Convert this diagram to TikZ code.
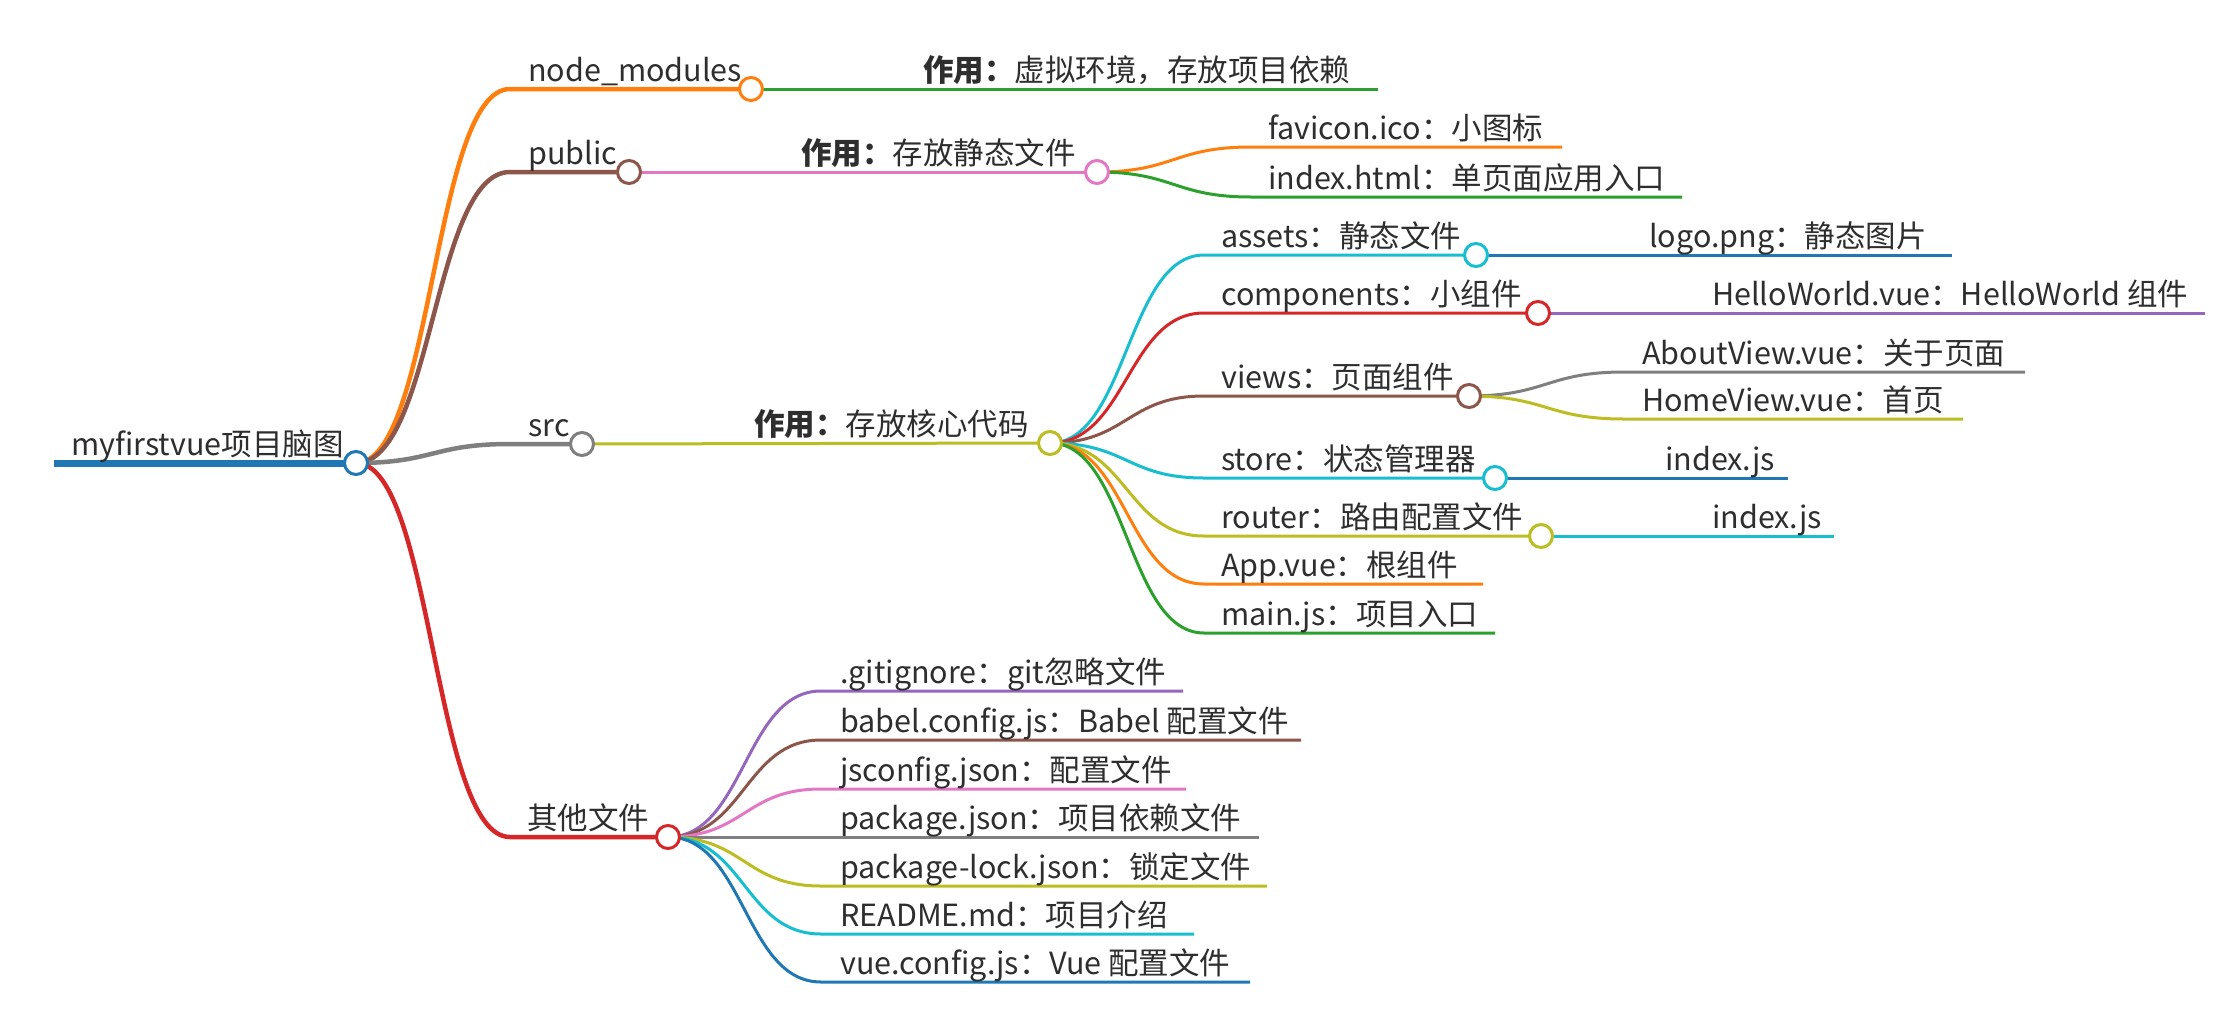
\documentclass[tikz,border=0pt]{standalone}
\usepackage{fontspec}
\setmainfont{Noto Sans CJK SC}
\usetikzlibrary{calc}
\definecolor{cblue}{HTML}{1F77B4}
\definecolor{corange}{HTML}{FF7F0E}
\definecolor{cgreen}{HTML}{2CA02C}
\definecolor{cred}{HTML}{D62728}
\definecolor{cpurple}{HTML}{9467BD}
\definecolor{cbrown}{HTML}{8C564B}
\definecolor{cpink}{HTML}{E377C2}
\definecolor{cgray}{HTML}{7F7F7F}
\definecolor{colive}{HTML}{BCBD22}
\definecolor{ccyan}{HTML}{17BECF}
\definecolor{txt}{HTML}{2E2E2E}
\pgfdeclarelayer{bg}
\pgfdeclarelayer{lines}
\pgfsetlayers{bg,lines,main}
\begin{document}
\begin{tikzpicture}[x=1pt,y=-1pt,
  bez/.style={to path={let \p1=(\tikztostart),\p2=(\tikztotarget) in
     .. controls ($(\p1)!0.5!(\x2,\y1)$) and ($(\p2)!0.5!(\x1,\y2)$) .. (\p2)}},
  knob/.style={circle,draw=#1,fill=white,line width=3pt,minimum size=23pt,inner sep=0pt},
  lbl/.style={anchor=base west,inner sep=0pt,font=\fontsize{30.5}{36}\selectfont,text=txt},
  brone/.style={draw=#1,line width=4.5pt},
  brtwo/.style={draw=#1,line width=3pt},
]
\useasboundingbox (0,0) rectangle (2218,1012);
\begin{pgfonlayer}{bg}
\fill[white] (0,0) rectangle (2218,1012);
\end{pgfonlayer}

% ---------- circles ----------
\node[knob=cblue]   (root)   at (356,463) {};
\node[knob=corange] (nm)     at (751,89)  {};
\node[knob=cbrown]  (pub)    at (629,172) {};
\node[knob=cpink]   (pubc)   at (1097,172) {};
\node[knob=cgray]   (src)    at (582,444) {};
\node[knob=colive]  (srcc)   at (1050,443) {};
\node[knob=ccyan]   (assets) at (1476,255) {};
\node[knob=cred]    (comp)   at (1538,313) {};
\node[knob=cbrown]  (views)  at (1469,396) {};
\node[knob=ccyan]   (store)  at (1495,478) {};
\node[knob=colive]  (router) at (1541,536) {};
\node[knob=cred]    (other)  at (668,837) {};

% ---------- coordinates ----------
\coordinate (root-w) at (54,463);
\coordinate (nm-s) at (510,89);
\coordinate (pub-s) at (510,172);
\coordinate (src-s) at (510,444);
\coordinate (other-s) at (510,837);
\coordinate (nmc-e) at (1378,89);
\coordinate (fav-s) at (1251,147);  \coordinate (fav-e) at (1562,147);
\coordinate (html-s) at (1251,197); \coordinate (html-e) at (1682,197);
\coordinate (assets-s) at (1204,255);
\coordinate (logo-e) at (1952,255);
\coordinate (comp-s) at (1204,313);
\coordinate (hello-e) at (2205,313);
\coordinate (views-s) at (1204,396);
\coordinate (about-s) at (1624,372); \coordinate (about-e) at (2025,372);
\coordinate (home-s) at (1624,419);  \coordinate (home-e) at (1963,419);
\coordinate (store-s) at (1204,478);
\coordinate (sidx-e) at (1788,478);
\coordinate (router-s) at (1204,536);
\coordinate (ridx-e) at (1834,536);
\coordinate (app-s) at (1204,584);  \coordinate (app-e) at (1483,584);
\coordinate (main-s) at (1204,633); \coordinate (main-e) at (1495,633);
\coordinate (git-s) at (821,691);   \coordinate (git-e) at (1183,691);
\coordinate (babel-s) at (821,740); \coordinate (babel-e) at (1301,740);
\coordinate (jsc-s) at (821,789);   \coordinate (jsc-e) at (1186,789);
\coordinate (pkg-s) at (821,837);   \coordinate (pkg-e) at (1259,837);
\coordinate (lock-s) at (821,886);  \coordinate (lock-e) at (1267,886);
\coordinate (readme-s) at (821,934); \coordinate (readme-e) at (1194,934);
\coordinate (vuec-s) at (821,982);  \coordinate (vuec-e) at (1250,982);

% ---------- connectors ----------
\begin{pgfonlayer}{lines}
\draw[draw=cblue,line width=7pt] (root-w) -- (root.center);
\draw[brone=corange] (root.center) to[bez] (nm-s) -- (nm.center);
\draw[brone=cbrown] (root.center) to[bez] (pub-s) -- (pub.center);
\draw[brone=cgray] (root.center) to[bez] (src-s) -- (src.center);
\draw[brone=cred] (root.center) to[bez] (other-s) -- (other.center);

\draw[brtwo=cgreen] (nm.center) -- (nmc-e);
\draw[brtwo=cpink] (pub.center) -- (pubc.center);
\draw[brtwo=corange] (pubc.center) to[bez] (fav-s) -- (fav-e);
\draw[brtwo=cgreen] (pubc.center) to[bez] (html-s) -- (html-e);

\draw[brtwo=colive] (src.center) -- (srcc.center);
\draw[brtwo=ccyan] (srcc.center) to[bez] (assets-s) -- (assets.center);
\draw[brtwo=cblue] (assets.center) -- (logo-e);
\draw[brtwo=cred] (srcc.center) to[bez] (comp-s) -- (comp.center);
\draw[brtwo=cpurple] (comp.center) -- (hello-e);
\draw[brtwo=cbrown] (srcc.center) to[bez] (views-s) -- (views.center);
\draw[brtwo=cgray] (views.center) to[bez] (about-s) -- (about-e);
\draw[brtwo=colive] (views.center) to[bez] (home-s) -- (home-e);
\draw[brtwo=ccyan] (srcc.center) to[bez] (store-s) -- (store.center);
\draw[brtwo=cblue] (store.center) -- (sidx-e);
\draw[brtwo=colive] (srcc.center) to[bez] (router-s) -- (router.center);
\draw[brtwo=ccyan] (router.center) -- (ridx-e);
\draw[brtwo=corange] (srcc.center) to[bez] (app-s) -- (app-e);
\draw[brtwo=cgreen] (srcc.center) to[bez] (main-s) -- (main-e);

\draw[brtwo=cpurple] (other.center) to[bez] (git-s) -- (git-e);
\draw[brtwo=cbrown] (other.center) to[bez] (babel-s) -- (babel-e);
\draw[brtwo=cpink] (other.center) to[bez] (jsc-s) -- (jsc-e);
\draw[brtwo=cgray] (other.center) to[bez] (pkg-s) -- (pkg-e);
\draw[brtwo=colive] (other.center) to[bez] (lock-s) -- (lock-e);
\draw[brtwo=ccyan] (other.center) to[bez] (readme-s) -- (readme-e);
\draw[brtwo=cblue] (other.center) to[bez] (vuec-s) -- (vuec-e);
\end{pgfonlayer}

% ---------- labels ----------
\node[lbl] (t-root) at (71,455) {myfirstvue项目脑图};
\node[lbl] (t-nm) at (528,81.5) {node\_modules};
\node[lbl] (t-nmc) at (923,81.5) {\textbf{作用：}虚拟环境，存放项目依赖};
\node[lbl] (t-pub) at (528,164.5) {public};
\node[lbl] (t-pubc) at (801,164.5) {\textbf{作用：}存放静态文件};
\node[lbl] (t-fav) at (1268,139.5) {favicon.ico：小图标};
\node[lbl] (t-html) at (1268,189.5) {index.html：单页面应用入口};
\node[lbl] (t-src) at (528,436.5) {src};
\node[lbl] (t-srcc) at (754,435.5) {\textbf{作用：}存放核心代码};
\node[lbl] (t-assets) at (1221,247.5) {assets：静态文件};
\node[lbl] (t-logo) at (1649,247.5) {logo.png：静态图片};
\node[lbl] (t-comp) at (1221,305.5) {components：小组件};
\node[lbl] (t-hello) at (1712,305.5) {HelloWorld.vue：HelloWorld 组件};
\node[lbl] (t-views) at (1221,388.5) {views：页面组件};
\node[lbl] (t-about) at (1642,364.5) {AboutView.vue：关于页面};
\node[lbl] (t-home) at (1642,411.5) {HomeView.vue：首页};
\node[lbl] (t-store) at (1221,470.5) {store：状态管理器};
\node[lbl] (t-sidx) at (1665,470.5) {index.js};
\node[lbl] (t-router) at (1221,528.5) {router：路由配置文件};
\node[lbl] (t-ridx) at (1712,528.5) {index.js};
\node[lbl] (t-app) at (1221,576.5) {App.vue：根组件};
\node[lbl] (t-main) at (1221,625.5) {main.js：项目入口};
\node[lbl] (t-other) at (527,829.5) {其他文件};
\node[lbl] (t-git) at (840,683.5) {.gitignore：git忽略文件};
\node[lbl] (t-babel) at (840,732.5) {babel.config.js：Babel 配置文件};
\node[lbl] (t-jsc) at (840,781.5) {jsconfig.json：配置文件};
\node[lbl] (t-pkg) at (840,829.5) {package.json：项目依赖文件};
\node[lbl] (t-lock) at (840,878.5) {package-lock.json：锁定文件};
\node[lbl] (t-readme) at (840,926.5) {README.md：项目介绍};
\node[lbl] (t-vuec) at (840,974.5) {vue.config.js：Vue 配置文件};
\end{tikzpicture}
\end{document}
